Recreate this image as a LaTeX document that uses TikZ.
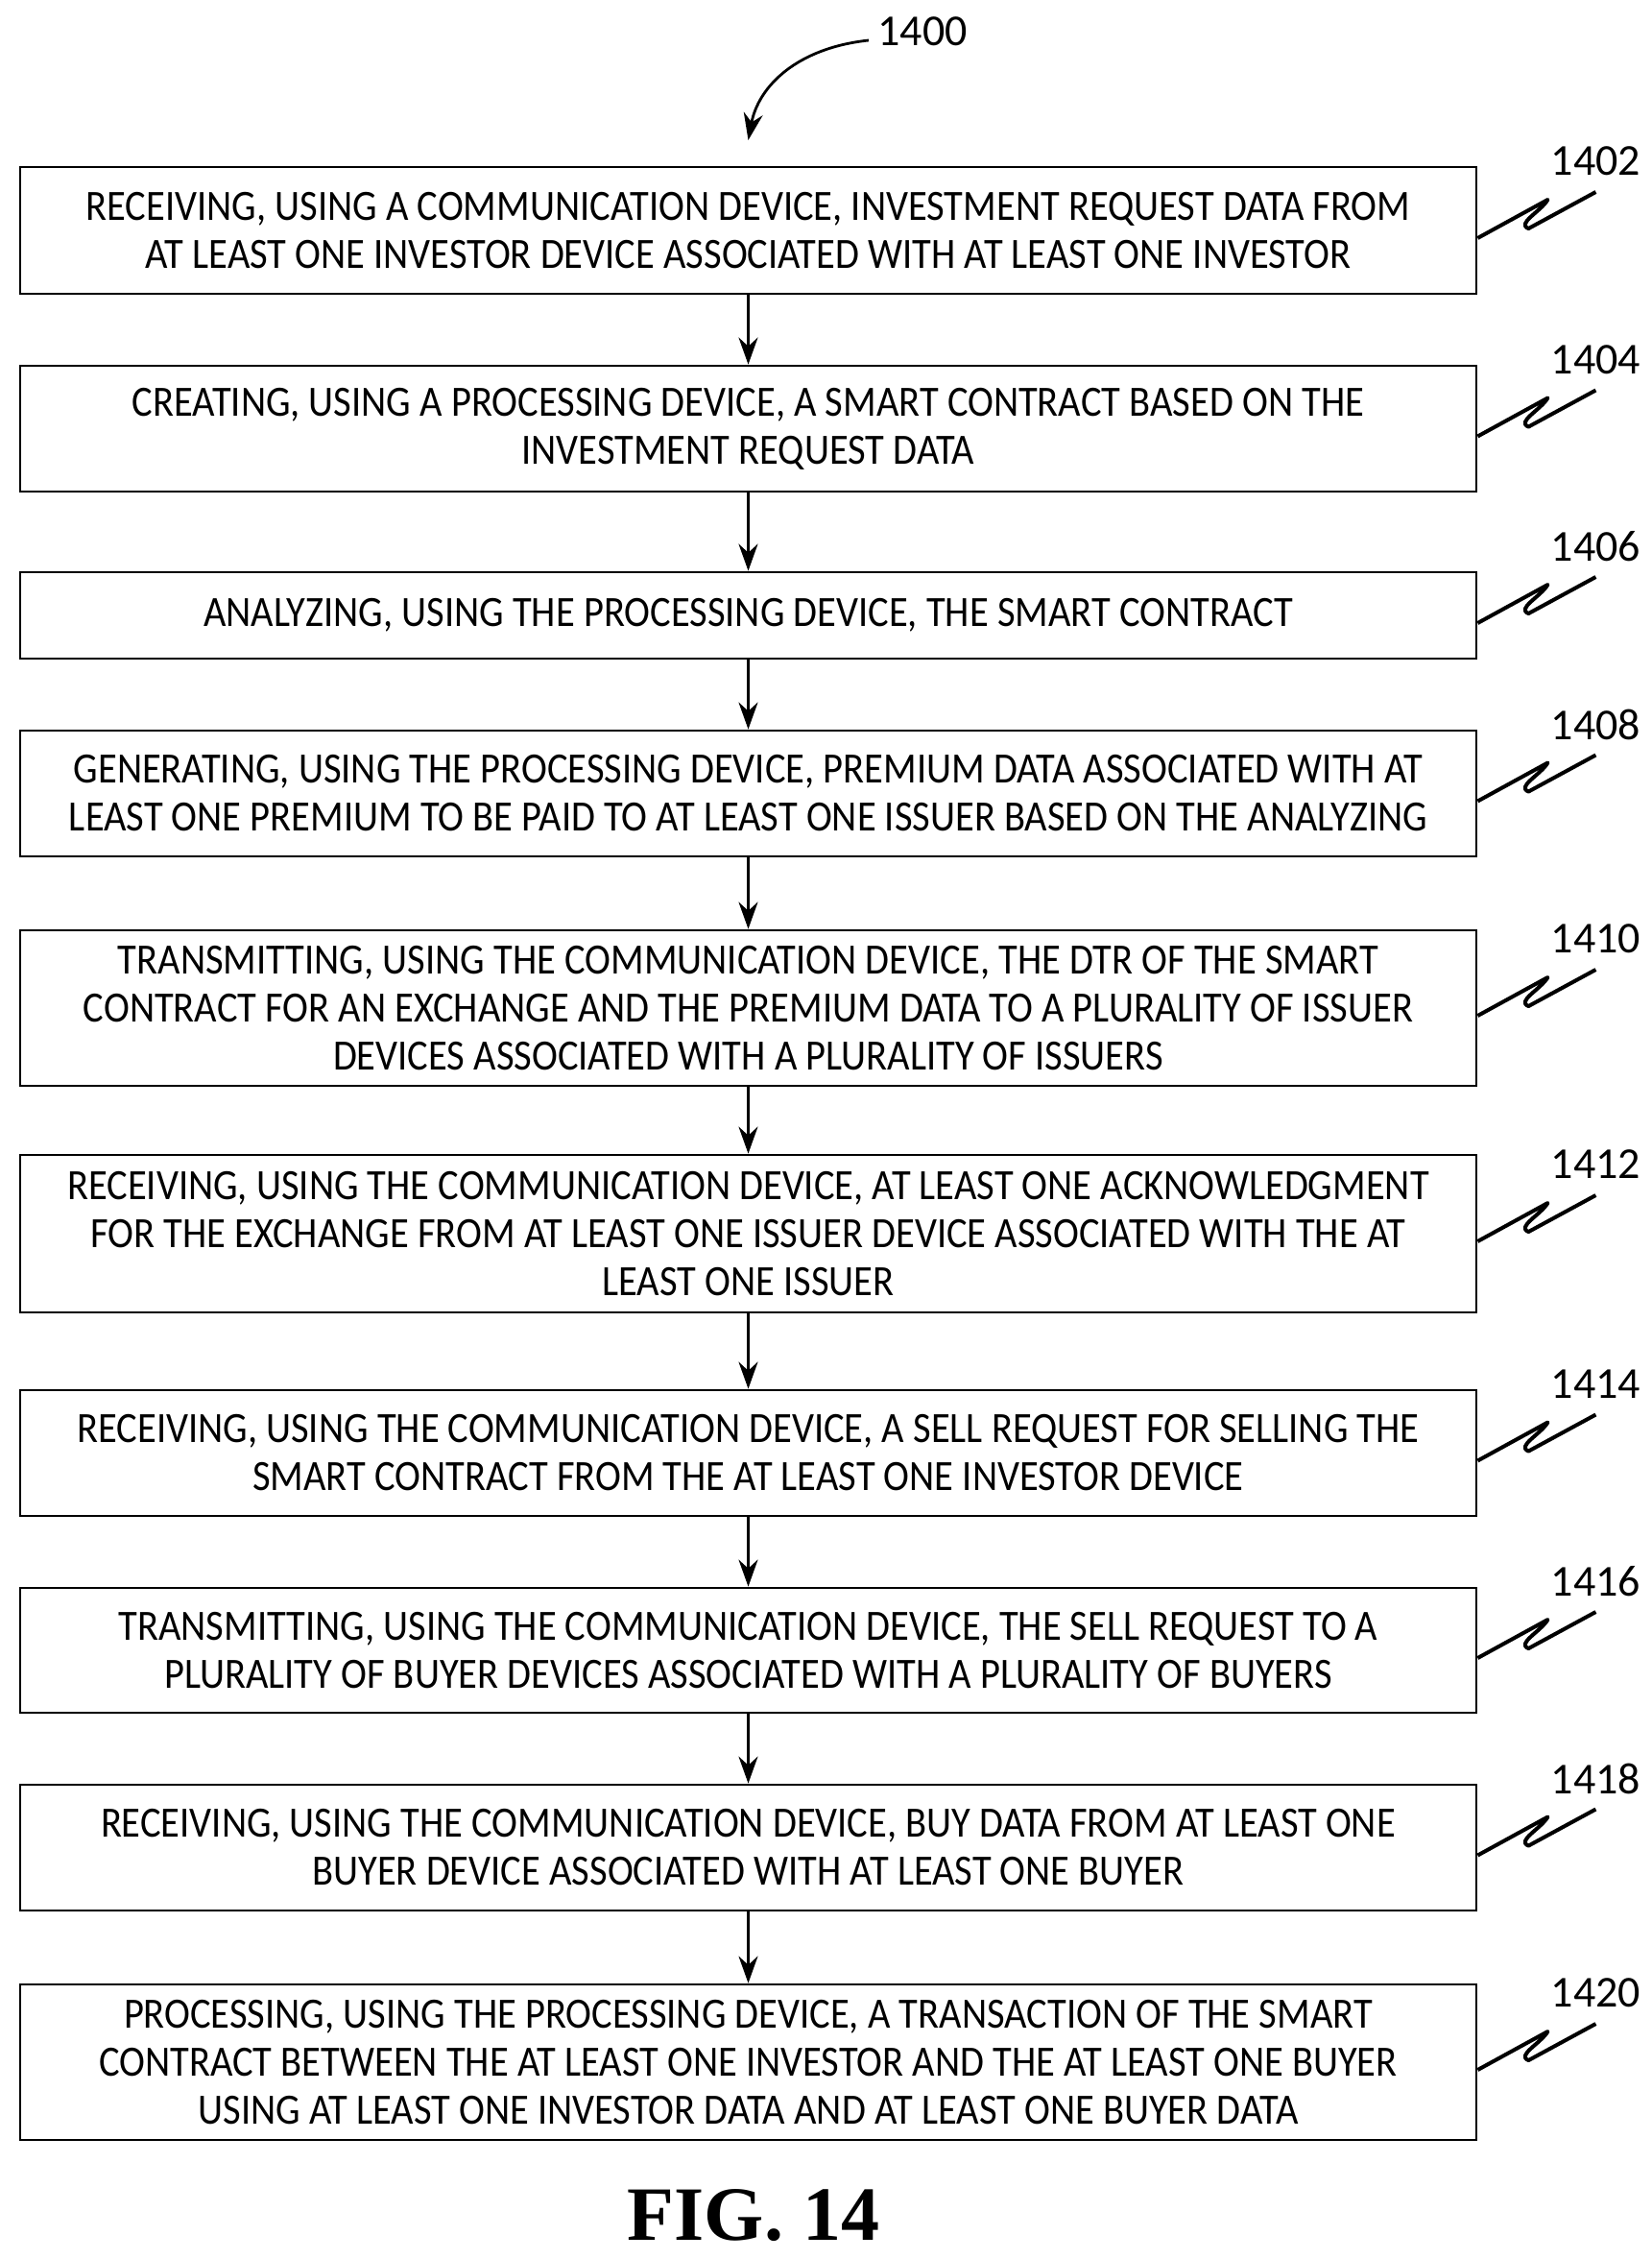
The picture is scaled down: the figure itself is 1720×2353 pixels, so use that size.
\documentclass[tikz,border=0pt]{standalone}
\usepackage{fontspec}
\setmainfont{Carlito}[FakeStretch=0.9]
\newfontfamily\labfont{Carlito}
\newfontfamily\figfont{Liberation Serif}
\usetikzlibrary{arrows.meta}
\begin{document}
\begin{tikzpicture}[x=0.5pt,y=-0.5pt,
  box/.style={draw,line width=1.4pt,minimum width=758.5pt,align=center,inner sep=0pt,font=\fontsize{22.5}{25}\selectfont},
  arr/.style={line width=1.4pt,-{Stealth[length=14pt,width=10pt]}},
  zig/.style={line width=2pt,line join=round},
  lab/.style={font=\labfont\fontsize{23}{25}\selectfont}]
\useasboundingbox (0,0) rectangle (1720,2353);
\def\mk#1#2#3#4{% name, top, bottom, text
  \node[box,minimum height={(#3-#2)*0.5pt}] (#1) at (779.5,{(#2+#3)/2}) {#4};}
\mk{b1}{174}{306}{RECEIVING, USING A COMMUNICATION DEVICE, INVESTMENT REQUEST DATA FROM\\ AT LEAST ONE INVESTOR DEVICE ASSOCIATED WITH AT LEAST ONE INVESTOR}
\mk{b2}{381}{512}{CREATING, USING A PROCESSING DEVICE, A SMART CONTRACT BASED ON THE\\ INVESTMENT REQUEST DATA}
\mk{b3}{596}{686}{ANALYZING, USING THE PROCESSING DEVICE, THE SMART CONTRACT}
\mk{b4}{761}{892}{GENERATING, USING THE PROCESSING DEVICE, PREMIUM DATA ASSOCIATED WITH AT\\ LEAST ONE PREMIUM TO BE PAID TO AT LEAST ONE ISSUER BASED ON THE ANALYZING}
\mk{b5}{969}{1131}{TRANSMITTING, USING THE COMMUNICATION DEVICE, THE DTR OF THE SMART\\ CONTRACT FOR AN EXCHANGE AND THE PREMIUM DATA TO A PLURALITY OF ISSUER\\ DEVICES ASSOCIATED WITH A PLURALITY OF ISSUERS}
\mk{b6}{1203}{1367}{RECEIVING, USING THE COMMUNICATION DEVICE, AT LEAST ONE ACKNOWLEDGMENT\\ FOR THE EXCHANGE FROM AT LEAST ONE ISSUER DEVICE ASSOCIATED WITH THE AT\\ LEAST ONE ISSUER}
\mk{b7}{1448}{1579}{RECEIVING, USING THE COMMUNICATION DEVICE, A SELL REQUEST FOR SELLING THE\\ SMART CONTRACT FROM THE AT LEAST ONE INVESTOR DEVICE}
\mk{b8}{1654}{1784}{TRANSMITTING, USING THE COMMUNICATION DEVICE, THE SELL REQUEST TO A\\ PLURALITY OF BUYER DEVICES ASSOCIATED WITH A PLURALITY OF BUYERS}
\mk{b9}{1859}{1990}{RECEIVING, USING THE COMMUNICATION DEVICE, BUY DATA FROM AT LEAST ONE\\ BUYER DEVICE ASSOCIATED WITH AT LEAST ONE BUYER}
\mk{b10}{2067}{2229}{PROCESSING, USING THE PROCESSING DEVICE, A TRANSACTION OF THE SMART\\ CONTRACT BETWEEN THE AT LEAST ONE INVESTOR AND THE AT LEAST ONE BUYER\\ USING AT LEAST ONE INVESTOR DATA AND AT LEAST ONE BUYER DATA}
\foreach \a/\b in {b1/b2,b2/b3,b3/b4,b4/b5,b5/b6,b6/b7,b7/b8,b8/b9,b9/b10}
  \draw[arr] (\a.south) -- (\b.north);
\foreach \n/\t in {b1/1402,b2/1404,b3/1406,b4/1408,b5/1410,b6/1412,b7/1414,b8/1416,b9/1418,b10/1420}{
  \draw[zig] ([yshift=-4pt]\n.east) -- ++(73,-40) to[out=-120,in=160] ++(-20,30) -- ++(70,-38);
  \node[lab] (l\n) at ([shift={(123,-80)},yshift=-4pt]\n.east) {\t};
}
\node[lab] (top) at (961,33) {1400};
\coordinate (s) at (905,42);
\draw[arr] (s) .. controls (830,50) and (790,90) .. (b1.north |- 0,146);
\node[font=\figfont\bfseries\fontsize{40}{44}\selectfont] (fig) at (785,2308) {FIG. 14};
\end{tikzpicture}
\end{document}
